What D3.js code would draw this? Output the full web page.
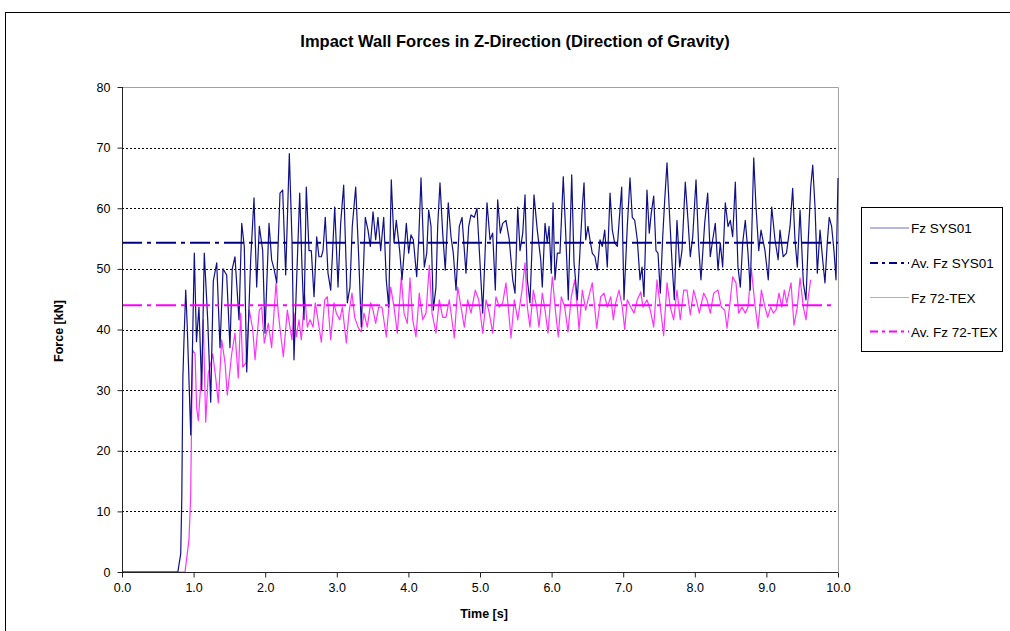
<!DOCTYPE html>
<html><head><meta charset="utf-8">
<script src="https://cdn.jsdelivr.net/npm/d3@7"></script>
<style>
html,body{margin:0;padding:0;background:#fff;}
svg{display:block;font-family:"Liberation Sans",Arial,sans-serif;}
</style></head>
<body>
<svg id="c" width="1010" height="631"></svg>
<script>
const title = "Impact Wall Forces in Z-Direction (Direction of Gravity)";
const xLabel = "Time [s]";
const yLabel = "Force [kN]";
const seriesNames = ["Fz SYS01", "Av. Fz SYS01", "Fz 72-TEX", "Av. Fz 72-TEX"];
const xTicks = [0,1,2,3,4,5,6,7,8,9,10];
const yTicks = [0,10,20,30,40,50,60,70,80];

// Fz SYS01 : [time s, force kN]
const sys01 = [
[0,0],[0.78,0],[0.80,1.5],[0.82,3],[0.835,12],[0.85,32],[0.865,38],[0.89,46.5],[0.91,41],[0.96,22.6],
[1.01,52.6],[1.04,38],[1.075,43.7],[1.113,30],[1.149,52.6],[1.197,41.6],[1.239,28],[1.275,48],[1.323,51],[1.369,37],
[1.411,50],[1.462,49],[1.508,37],[1.54,50],[1.578,52],[1.634,41.6],[1.672,57.5],[1.708,53.7],[1.742,33],[1.797,51.5],
[1.844,61.7],[1.881,47],[1.918,57],[1.965,53],[1.997,39.4],[2.053,57.5],[2.09,51.5],[2.123,50],[2.161,47.7],[2.207,62.5],
[2.244,63],[2.286,49],[2.337,69],[2.374,54.8],[2.402,35],[2.434,46.5],[2.482,62.5],[2.514,50.3],[2.542,41.6],[2.574,63.5],
[2.612,53],[2.644,53],[2.682,45.4],[2.719,55.3],[2.751,52],[2.784,52],[2.807,53],[2.839,58.5],[2.877,49.3],[2.915,46.5],
[2.971,60.2],[3.017,47],[3.054,57.5],[3.096,63.8],[3.147,44.4],[3.184,47],[3.216,57],[3.264,63.5],[3.306,52],[3.342,40.4],
[3.398,58.5],[3.436,56.4],[3.468,53.7],[3.506,59.4],[3.543,54.8],[3.575,58.5],[3.613,53],[3.655,58.5],[3.691,48.2],[3.725,43.7],
[3.761,64.7],[3.799,54.3],[3.831,58],[3.878,53],[3.911,48.2],[3.971,57.5],[4.004,52.6],[4.036,55.6],[4.069,54.8],[4.116,48.7],
[4.144,54.8],[4.176,65],[4.222,50.3],[4.256,52.6],[4.283,59.7],[4.316,57],[4.348,43.2],[4.385,47],[4.409,57],[4.441,64.2],
[4.479,55.9],[4.515,49.8],[4.557,60.9],[4.595,55.3],[4.627,52.6],[4.665,46.5],[4.711,57],[4.749,58.5],[4.804,49.3],[4.842,57],
[4.874,58.9],[4.92,58.5],[4.958,60],[5.0,51],[5.038,42.7],[5.098,60.9],[5.14,54.8],[5.177,55.9],[5.214,46.5],[5.247,61.4],
[5.284,55.9],[5.317,57.5],[5.363,58],[5.409,54.8],[5.457,48.2],[5.489,46],[5.527,60.2],[5.559,53],[5.597,55.9],[5.629,62.2],
[5.661,48.2],[5.698,44.4],[5.754,62.2],[5.8,56.4],[5.848,51.5],[5.87,47],[5.908,57.5],[5.94,54.3],[5.964,57],[5.996,49.3],
[6.02,60.9],[6.047,48.2],[6.08,52.6],[6.117,52.6],[6.163,65.2],[6.197,55.9],[6.233,44.9],[6.281,65.5],[6.313,51],[6.359,44.9],
[6.392,52],[6.429,60.2],[6.453,64.2],[6.476,54.8],[6.508,57],[6.536,54.8],[6.568,52.6],[6.606,52],[6.638,49.8],[6.676,54.8],
[6.708,53.7],[6.742,56.4],[6.778,50.3],[6.816,62.5],[6.848,56.4],[6.881,54.3],[6.918,53.7],[6.941,57.5],[6.979,63.5],[7.011,44.9],
[7.057,57],[7.095,65],[7.127,58.5],[7.161,58],[7.197,54.8],[7.235,48.2],[7.263,50.3],[7.29,45.4],[7.332,63],[7.364,55.9],
[7.392,59.2],[7.426,62],[7.458,53],[7.486,52.6],[7.518,46],[7.552,55.3],[7.58,61.4],[7.612,67.5],[7.644,59.7],[7.682,51],
[7.714,44.9],[7.751,58],[7.789,50.3],[7.821,53],[7.867,64.3],[7.905,58],[7.937,52],[7.971,55.3],[8.017,64.7],[8.054,53.7],
[8.086,48.2],[8.138,57.5],[8.18,62.5],[8.216,52],[8.25,54.8],[8.286,57.5],[8.324,49.8],[8.356,54.3],[8.389,50.3],[8.426,60.9],
[8.464,57],[8.496,58],[8.529,55.3],[8.566,64.3],[8.603,50.3],[8.636,47],[8.669,54.3],[8.705,58],[8.743,52.6],[8.775,46.5],
[8.823,68.3],[8.855,60.2],[8.893,53],[8.925,56.4],[8.98,53],[9.026,48.2],[9.074,60.2],[9.12,54.8],[9.164,51.5],[9.19,56.4],
[9.234,52],[9.28,52.6],[9.33,57],[9.367,63.3],[9.399,54.8],[9.432,50.3],[9.47,59.7],[9.516,47.7],[9.553,44.9],[9.585,54.8],
[9.619,63.5],[9.647,67.1],[9.679,60.2],[9.711,49.3],[9.749,56.4],[9.786,51.5],[9.818,47.7],[9.85,54.3],[9.878,58.5],[9.911,57],
[9.944,53],[9.972,48.2],[10.0,65]
];

// Fz 72-TEX : [time s, force kN]
const tex72 = [
[0,0],[0.88,0],[0.935,5.3],[0.959,12.4],[0.973,26],[0.987,36.6],[1.02,36],[1.043,27],[1.066,25],[1.113,33.3],
[1.135,41.6],[1.169,24.7],[1.205,32.8],[1.229,33.8],[1.267,36],[1.309,32],[1.345,27.9],[1.392,38.3],[1.439,34.5],[1.471,29.2],
[1.532,36],[1.578,39.4],[1.624,32],[1.658,42.7],[1.686,33.8],[1.732,34.5],[1.778,43.2],[1.826,40],[1.858,35],[1.918,43.2],
[1.951,43.7],[1.987,37.8],[2.043,41],[2.09,37],[2.151,47.7],[2.183,42.7],[2.22,38.8],[2.253,35.5],[2.309,43.2],[2.374,38.3],
[2.402,42.7],[2.434,38.8],[2.472,41.6],[2.504,38.3],[2.552,45.7],[2.588,40.4],[2.626,41.6],[2.668,40.4],[2.7,44.4],[2.737,41.6],
[2.784,37.9],[2.831,44.9],[2.868,45.4],[2.915,38.3],[2.961,44.4],[2.993,42.7],[3.041,41.6],[3.077,43.7],[3.133,37.8],[3.17,42.7],
[3.212,46],[3.25,42],[3.296,40.4],[3.342,39.6],[3.38,42.7],[3.426,40.4],[3.473,44.4],[3.506,43.2],[3.543,41],[3.585,43.7],
[3.631,43.7],[3.691,38.8],[3.753,47],[3.799,43.7],[3.845,39.4],[3.901,48.7],[3.939,42.7],[3.985,41],[4.022,48.5],[4.06,41.6],
[4.106,38.8],[4.152,46],[4.2,41.6],[4.246,42.7],[4.292,50.6],[4.33,42.7],[4.385,39.4],[4.432,44.9],[4.479,42],[4.525,42],
[4.571,44.9],[4.641,38.6],[4.689,47],[4.735,43.7],[4.781,40.4],[4.828,44.9],[4.874,42.7],[4.934,46.5],[4.982,44.9],[5.038,39.4],
[5.084,44.9],[5.13,42.7],[5.177,39.4],[5.223,45.4],[5.269,43.7],[5.317,44.4],[5.363,47.7],[5.433,38.6],[5.479,44.9],[5.527,41.6],
[5.587,46.5],[5.629,51],[5.661,43.7],[5.698,40.4],[5.745,46.5],[5.791,43.7],[5.824,40.4],[5.87,46],[5.908,43.2],[5.95,39.4],
[6.01,48.7],[6.057,42.7],[6.093,38.8],[6.135,45.4],[6.183,43.7],[6.229,39.6],[6.275,45.4],[6.323,48.2],[6.359,43.7],[6.383,40],
[6.429,46.5],[6.476,43.2],[6.508,44.9],[6.568,47.7],[6.63,40.2],[6.686,45.4],[6.732,46],[6.778,43.7],[6.826,45.4],[6.862,41.6],
[6.895,44.4],[6.941,46.5],[6.988,43.7],[7.021,40],[7.057,44.9],[7.105,43.7],[7.151,42.7],[7.197,44.9],[7.245,46.2],[7.277,43.7],
[7.332,44.9],[7.378,43.2],[7.426,40.4],[7.472,48.2],[7.518,43.7],[7.565,39],[7.612,47.7],[7.658,43.7],[7.705,41.6],[7.751,46.5],
[7.797,41.6],[7.845,46.5],[7.891,46.5],[7.937,42.4],[7.984,46.5],[8.031,44.4],[8.063,42.7],[8.124,46],[8.17,44.9],[8.216,42.7],
[8.264,46],[8.324,46.5],[8.37,43.7],[8.418,43.2],[8.45,40.2],[8.496,44.9],[8.529,48.7],[8.575,47.7],[8.613,42.7],[8.659,43.7],
[8.705,42.7],[8.743,43.7],[8.789,50.1],[8.837,44.4],[8.883,40.2],[8.93,46.5],[8.98,43.7],[9.018,42],[9.06,43.7],[9.097,42.7],
[9.134,43.2],[9.176,46],[9.214,43.7],[9.25,46.5],[9.284,44.4],[9.344,47.7],[9.385,40.7],[9.432,43.7],[9.47,48.5],[9.516,43.7],
[9.553,41.6],[9.585,45.4],[9.619,48.2]
];

// Averages: [time s, force kN]
const avgSys01 = [[0,54.3],[10,54.3]];
const avgTex72 = [[0,44.0],[9.95,44.0]];

const svg = d3.select("#c");
const L=122, R=838, T=87, B=572;
const x = d3.scaleLinear().domain([0,10]).range([L,R]);
const y = d3.scaleLinear().domain([0,80]).range([B,T]);

// outer chart border
svg.append("rect").attr("x",5.5).attr("y",12.5).attr("width",1100).attr("height",1000)
  .attr("fill","#fff").attr("stroke","#000").attr("stroke-width",1);

// title
svg.append("text").attr("x",515).attr("y",47).attr("text-anchor","middle")
  .attr("font-size",16.5).attr("font-weight","bold").text(title);

// gridlines
svg.append("g").selectAll("line").data(yTicks.filter(d=>d>0 && d<80)).join("line")
  .attr("x1",L).attr("x2",R).attr("y1",d=>Math.round(y(d))+0.5).attr("y2",d=>Math.round(y(d))+0.5)
  .attr("stroke","#000").attr("stroke-width",1).attr("stroke-dasharray","2,2");

// plot border top/right (gray)
svg.append("path").attr("d",`M${L},${T+0.5}H${R+0.5}V${B}`).attr("fill","none")
  .attr("stroke","#a0a0a0").attr("stroke-width",1);

// data lines
const line = d3.line().x(d=>x(d[0])).y(d=>y(d[1]));
svg.append("path").datum(tex72).attr("d",line).attr("fill","none")
  .attr("stroke","#ff33ff").attr("stroke-width",1.2).attr("stroke-linejoin","round");
svg.append("path").datum(sys01).attr("d",line).attr("fill","none")
  .attr("stroke","#101088").attr("stroke-width",1.2).attr("stroke-linejoin","round");

// average lines
svg.append("path").datum(avgSys01).attr("d",line).attr("fill","none")
  .attr("stroke","#000080").attr("stroke-width",2).attr("stroke-dasharray","20,5,4,5");
svg.append("path").datum(avgTex72).attr("d",line).attr("fill","none")
  .attr("stroke","#ff00ff").attr("stroke-width",2).attr("stroke-dasharray","20,5,4,5");

// axes
const yAxis = d3.axisLeft(y).tickValues(yTicks).tickSize(5).tickPadding(7).tickFormat(d3.format("d"));
const gy = svg.append("g").attr("transform",`translate(${L+0.5},0)`).call(yAxis);
const xAxis = d3.axisBottom(x).tickValues(xTicks).tickSize(5).tickPadding(6).tickFormat(d3.format(".1f"));
const gx = svg.append("g").attr("transform",`translate(0,${B+0.5})`).call(xAxis);
[gx,gy].forEach(g=>{
  g.select(".domain").attr("stroke","#222");
  g.selectAll(".tick line").attr("stroke","#222");
  g.selectAll(".tick text").attr("font-size",12.5).attr("fill","#000")
    .attr("font-family","'Liberation Sans',Arial,sans-serif");
});
gy.select(".domain").attr("d",`M0,${T}V${B}`);
gx.select(".domain").attr("d",`M${L},0H${R}`);

// axis titles
svg.append("text").attr("x",484).attr("y",618).attr("text-anchor","middle")
  .attr("font-size",12.5).attr("font-weight","bold").text(xLabel);
svg.append("text").attr("transform","translate(63,331) rotate(-90)").attr("text-anchor","middle")
  .attr("font-size",12.5).attr("font-weight","bold").text(yLabel);

// legend
const lg = svg.append("g");
lg.append("rect").attr("x",861.5).attr("y",207.5).attr("width",141).attr("height",144)
  .attr("fill","#fff").attr("stroke","#000").attr("stroke-width",1);
const legendStyles = [
  {c:"#7070c8", w:1, dash:null},
  {c:"#000080", w:2, dash:"8,4,3,4"},
  {c:"#ff80ff", w:1, dash:null},
  {c:"#ff00ff", w:2, dash:"8,4,3,4"}
];
const legY = [228, 263, 297.5, 331.5];
seriesNames.forEach((n,i)=>{
  lg.append("line").attr("x1",870).attr("x2",909).attr("y1",legY[i]).attr("y2",legY[i])
    .attr("stroke",legendStyles[i].c).attr("stroke-width",legendStyles[i].w)
    .attr("stroke-dasharray",legendStyles[i].dash);
  lg.append("text").attr("x",911).attr("y",legY[i]+5).attr("font-size",13.5).text(n);
});
</script>
</body></html>
